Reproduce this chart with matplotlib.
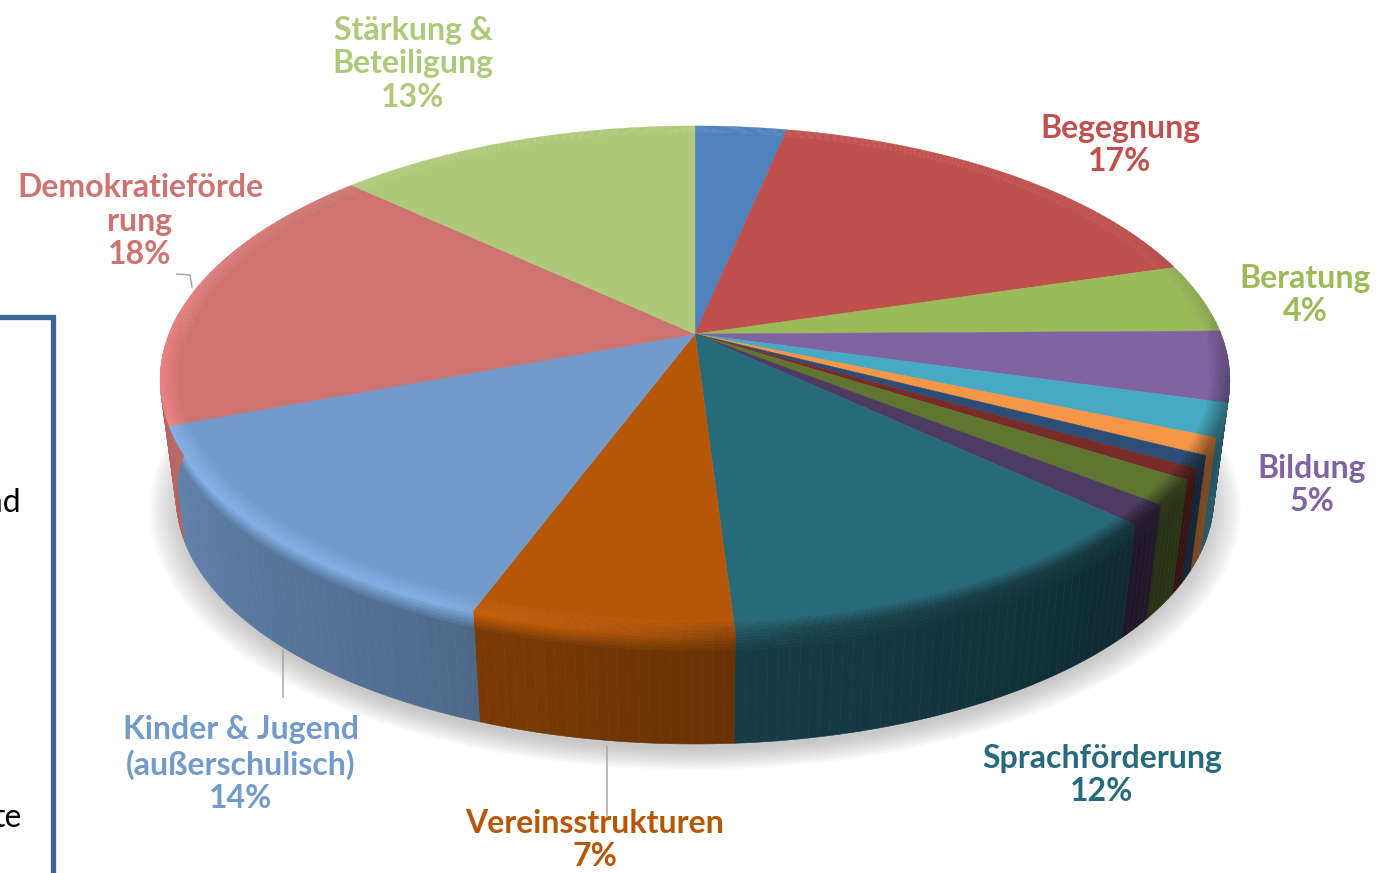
import numpy as np
import matplotlib
matplotlib.use("Agg")
import matplotlib.pyplot as plt
from matplotlib.collections import PolyCollection
from matplotlib.colors import to_rgb

# Anteile der Segmente, im Uhrzeigersinn ab 12 Uhr
shares = [3.3, 17.1, 4.4, 4.5, 2.1, 1.1, 0.8, 0.7, 1.6, 1.3, 12.1, 6.7, 13.6, 17.6, 13.1]
colors = ["#4F81BD", "#C0504D", "#9BBB59", "#8064A2", "#46AAC4", "#F79646", "#2C4D75", "#772C2A",
          "#5F7530", "#4D3B62", "#276A7C", "#B65708", "#729ACA", "#CD7371", "#AFC97A"]

labels = ["Stärkung &\nBeteiligung\n13%", "Begegnung\n17%", "Beratung\n4%", "Bildung\n5%",
          "Sprachförderung\n12%", "Vereinsstrukturen\n7%", "Kinder & Jugend\n(außerschulisch)\n14%",
          "Demokratieförde\nrung\n18%"]
label_colors = ["#AFC97A", "#C0504D", "#9BBB59", "#8064A2", "#276A7C", "#B65708", "#729ACA", "#CD7371"]
label_x = [413, 1120, 1305, 1312, 1102, 595, 241, 140]
label_y = [64, 145, 295, 485, 775, 840, 764, 221]

# Beleuchtung je Winkel (Grad): Kante oben und Seitenwand
light_ang = [0, 60, 90, 110, 130, 170, 185, 205, 250, 270, 300, 330, 360]
rim_light = [1.0, 0.98, 0.85, 0.62, 0.45, 0.65, 0.95, 1.12, 1.15, 1.12, 1.03, 1.0, 1.0]
wall_ang = [85, 105, 120, 135, 170, 178, 200, 205, 250, 275]
wall_light = [0.55, 0.55, 0.45, 0.4, 0.55, 0.58, 0.67, 0.7, 0.85, 0.95]

# Perspektive der Tortenoberseite
cx, cy = 695, 334
a, b, k = 526, 245.7, 0.181
cy_bottom, s_bottom = 453, 0.97


def project(r, ang):
    u = r * np.sin(np.radians(ang))
    v = r * np.cos(np.radians(ang))
    return a * u / (1 + k * v), -b * v / (1 + k * v)


def top_point(r, ang):
    x, y = project(r, ang)
    return cx + x, cy + y


def bottom_point(r, ang):
    x, y = project(r, ang)
    return cx + s_bottom * x, cy_bottom + s_bottom * y


def shade(c, f):
    return tuple(np.clip(np.array(to_rgb(c)) * f, 0, 1))


fig = plt.figure(figsize=(13.86, 8.73), dpi=100)
ax = fig.add_axes([0, 0, 1, 1])
ax.set_xlim(0, 1386)
ax.set_ylim(873, 0)
ax.axis("off")

edges = np.concatenate([[0], np.cumsum(shares)]) / np.sum(shares) * 360

# Schatten unter der Torte
ang = np.linspace(0, 360, 361)
for i in range(14):
    grow = 1.05 - i * 0.0045
    x, y = project(grow, ang)
    ax.fill(cx + s_bottom * x, cy_bottom + 8 + s_bottom * y, color="#808080", alpha=0.035, lw=0, zorder=1)

# Seitenwand
polys, cols = [], []
wall_steps = [0, 0.03, 0.06, 0.09, 0.12, 0.15, 1.0]
for i, c in enumerate(colors):
    n = max(int(edges[i + 1] - edges[i]) + 2, 3)
    t = np.linspace(edges[i], edges[i + 1], n)
    for j in range(n - 1):
        a0, a1 = t[j], t[j + 1]
        mid = (a0 + a1) / 2
        if mid < 85 or mid > 275:
            continue
        rim = np.interp(mid, light_ang, rim_light)
        wall = np.interp(mid, wall_ang, wall_light)
        for h in range(len(wall_steps) - 1):
            h0, h1 = wall_steps[h], wall_steps[h + 1]
            p = []
            for aa, hh in [(a0, h0), (a1, h0), (a1, h1), (a0, h1)]:
                t1 = np.array(top_point(1, aa))
                b1 = np.array(bottom_point(1, aa))
                p.append(t1 + (b1 - t1) * hh)
            polys.append(p)
            f = wall + (rim - wall) * max(0, 1 - h0 / 0.15)
            cols.append(shade(c, f))
# von hinten nach vorne, damit die vorderen Stuecke oben liegen
ax.add_collection(PolyCollection(polys, facecolors=cols, edgecolors=cols, linewidths=0.4, zorder=2))

# Oberseite
for i, c in enumerate(colors):
    t = np.linspace(edges[i], edges[i + 1], max(int(edges[i + 1] - edges[i]) * 2, 4))
    x, y = top_point(0.965, t)
    ax.fill(np.r_[cx, x], np.r_[cy, y], color=c, lw=0.3, zorder=3)

# abgeschraegte Kante
polys, cols = [], []
rings = np.linspace(0.965, 1.0, 8)
for i, c in enumerate(colors):
    n = max(int(edges[i + 1] - edges[i]) + 2, 3)
    t = np.linspace(edges[i], edges[i + 1], n)
    for j in range(n - 1):
        mid = (t[j] + t[j + 1]) / 2
        rim = np.interp(mid, light_ang, rim_light)
        for q in range(len(rings) - 1):
            r0, r1 = rings[q], rings[q + 1]
            polys.append([top_point(r0, t[j]), top_point(r0, t[j + 1]),
                          top_point(r1, t[j + 1]), top_point(r1, t[j])])
            f = 1 + (rim - 1) * (q + 1) / (len(rings) - 1)
            cols.append(shade(c, f))
ax.add_collection(PolyCollection(polys, facecolors=cols, edgecolors=cols, linewidths=0.3, zorder=4))

# Beschriftungen
for txt, c, x, y in zip(labels, label_colors, label_x, label_y):
    ax.text(x, y, txt, color=c, ha="center", va="center", family="Lato", weight="bold",
            fontsize=23, linespacing=1.17, zorder=6)

# Fuehrungslinien
ax.plot([177, 190, 192], [274, 275, 287], color="#A6A6A6", lw=1.1, zorder=5)
ax.plot([283, 283], [650, 697], color="#A6A6A6", lw=1.1, zorder=5)
ax.plot([607, 607], [746, 815], color="#A6A6A6", lw=1.1, zorder=5)

# abgeschnittener Textkasten links
ax.plot([-5, 53, 53], [317, 317, 880], color="#3B6494", lw=3.8, solid_joinstyle="miter", zorder=5)
ax.text(22, 512, "und", color="black", ha="right", va="baseline", family="Lato", fontsize=23, zorder=6)
ax.text(22, 827, "te", color="black", ha="right", va="baseline", family="Lato", fontsize=23, zorder=6)

fig.savefig("out.png", dpi=100)
